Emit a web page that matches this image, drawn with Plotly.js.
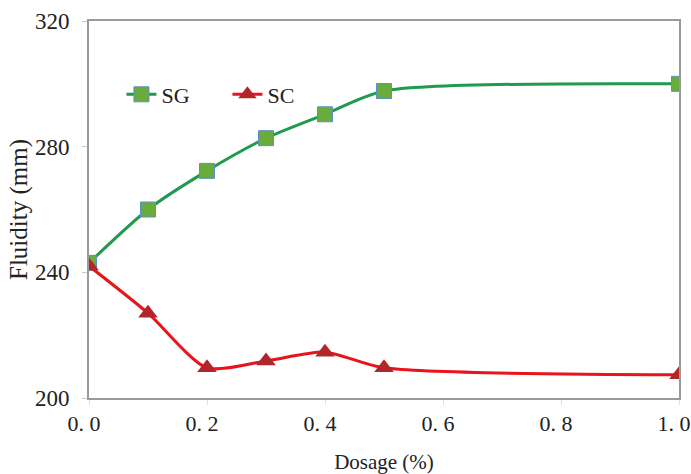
<!DOCTYPE html>
<html><head><meta charset="utf-8">
<script src="https://cdn.plot.ly/plotly-3.0.1.min.js"></script>
<style>html,body{margin:0;padding:0;background:#fff;}#chart{width:691px;height:474px;}</style>
</head><body><div id="chart"></div>
<script>
const dosage = [0, 0.1, 0.2, 0.3, 0.4, 0.5, 1.0];
const sgValues = [243, 260, 272.3, 282.7, 290.3, 297.7, 300];
const scValues = [242, 227, 209.6, 211.8, 214.6, 209.6, 207.4];
const xTickVals = [0, 0.2, 0.4, 0.6, 0.8, 1.0];
const xTickText = ["0. 0", "0. 2", "0. 4", "0. 6", "0. 8", "1. 0"];
const yTickVals = [200, 240, 280, 320];

const serif = "\"Liberation Serif\", \"Times New Roman\", serif";
const traces = [
  {x: dosage, y: sgValues, name: "SG", type: "scatter", mode: "lines+markers",
   line: {color: "#1f9a4f", width: 3, shape: "spline", smoothing: 0.7},
   marker: {symbol: "square", size: 15, color: "#6aac3c", line: {color: "#5b8fc9", width: 1}}},
  {x: dosage, y: scValues, name: "SC", type: "scatter", mode: "lines+markers",
   line: {color: "#e8131b", width: 3, shape: "spline", smoothing: 0.7},
   marker: {symbol: "triangle-up", size: 17, color: "#b0262a", line: {color: "#a02024", width: 0}}}
];
const layout = {
  width: 691, height: 474,
  margin: {l: 89, r: 12, t: 21, b: 76},
  paper_bgcolor: "#fff", plot_bgcolor: "#fff",
  font: {family: serif, color: "#222", size: 20},
  showlegend: true,
  legend: {orientation: "h", x: 0.055, y: 0.805, xanchor: "left", yanchor: "middle",
           bgcolor: "rgba(0,0,0,0)", font: {family: serif, size: 22, color: "#222"},
           entrywidth: 61, tracegroupgap: 0},
  xaxis: {range: [0, 1.0], tickvals: xTickVals, ticktext: xTickText,
          showgrid: false, zeroline: false, showline: true, mirror: true,
          linecolor: "#9a9a9a", linewidth: 2, ticks: "outside", ticklen: 5, tickcolor: "#e0e0e0",
          ticklabeloverflow: "allow", ticklabelshift: -5,
          tickfont: {family: serif, size: 22, color: "#222"},
          title: {text: "Dosage (%)", font: {family: serif, size: 21, color: "#222"}, standoff: 20}},
  yaxis: {range: [200, 320], tickvals: yTickVals,
          showgrid: false, zeroline: false, showline: true, mirror: true,
          linecolor: "#9a9a9a", linewidth: 2, ticks: "outside", ticklen: 5, tickcolor: "#c8c8c8",
          ticklabelstandoff: 8,
          tickfont: {family: serif, size: 23, color: "#222"},
          title: {text: "Fluidity (mm)", font: {family: serif, size: 25, color: "#222"}, standoff: 0}}
};
Plotly.newPlot("chart", traces, layout, {displayModeBar: false, staticPlot: true});
</script></body></html>
